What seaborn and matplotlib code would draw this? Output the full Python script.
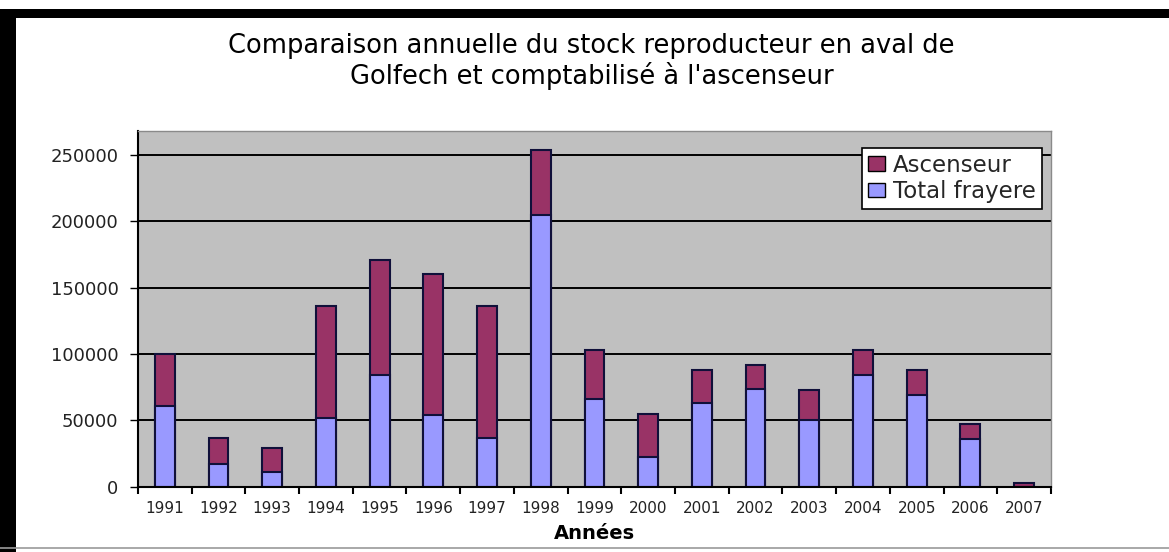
import matplotlib
matplotlib.use("Agg")
import matplotlib.pyplot as plt
from matplotlib.patches import Rectangle, Patch
from matplotlib.lines import Line2D
import numpy as np
import pandas as pd
import seaborn as sns

# data
annees = ["1991", "1992", "1993", "1994", "1995", "1996", "1997", "1998", "1999",
          "2000", "2001", "2002", "2003", "2004", "2005", "2006", "2007"]
total_frayere = [60500, 17000, 11000, 51500, 84500, 54000, 36500, 205000, 66500,
                 22500, 63500, 74000, 50500, 84500, 69500, 36000, 0]
ascenseur = [39500, 19500, 18000, 84500, 86000, 106000, 99500, 48500, 36500,
             32000, 24500, 18000, 22500, 18500, 18500, 11000, 3200]

df = pd.DataFrame({"annee": annees, "frayere": total_frayere, "ascenseur": ascenseur})
df["cumul"] = df["frayere"] + df["ascenseur"]

c_asc = "#993366"
c_fray = "#9999ff"
c_edge = "#10103a"

sns.set_style("white")
plt.rcParams["font.family"] = ["DejaVu Sans"]

fig = plt.figure(figsize=(11.69, 5.52), dpi=100)
ax = fig.add_axes([0.118, 0.118, 0.781, 0.645])
ax.set_facecolor("#c0c0c0")
ax.set_axisbelow(True)

# stacked bars: full height first (ascenseur on top), frayere over it
sns.barplot(data=df, x="annee", y="cumul", color=c_asc, width=0.37,
            edgecolor=c_edge, linewidth=1.5, saturation=1, ax=ax)
sns.barplot(data=df, x="annee", y="frayere", color=c_fray, width=0.37,
            edgecolor=c_edge, linewidth=1.5, saturation=1, ax=ax)

ax.set_xlim(-0.5, len(annees) - 0.5)
ax.set_ylim(0, 268000)
ax.set_yticks(np.arange(0, 250001, 50000))
ax.set_yticklabels([str(v) for v in range(0, 250001, 50000)], fontsize=13, color="#222222")
ax.yaxis.grid(True, color="black", linewidth=1.4)
ax.tick_params(axis="y", left=True, length=6, width=1, pad=8, color="black")

# year labels centred, ticks on the category boundaries
ax.set_xticks(np.arange(-0.5, len(annees), 1))
ax.set_xticklabels([])
ax.set_xticks(np.arange(len(annees)), minor=True)
ax.set_xticklabels(annees, minor=True, fontsize=11, color="#222222")
ax.tick_params(axis="x", which="major", bottom=True, length=5, width=1.5, color="black")
ax.tick_params(axis="x", which="minor", bottom=False, length=0, pad=10)

ax.set_xlabel("Années", fontsize=14, fontweight="bold", labelpad=6, color="black")
ax.set_ylabel("")

for s in ["top", "right"]:
    ax.spines[s].set_color("#8a8a8a")
    ax.spines[s].set_linewidth(1)
for s in ["left", "bottom"]:
    ax.spines[s].set_color("black")
    ax.spines[s].set_linewidth(1.5)

handles = [Patch(facecolor=c_asc, edgecolor="black", label="Ascenseur"),
           Patch(facecolor=c_fray, edgecolor="black", label="Total frayere")]
leg = ax.legend(handles=handles, loc="upper right", bbox_to_anchor=(0.990, 0.952),
                borderaxespad=0, fontsize=16.5, frameon=True, fancybox=False,
                framealpha=1, edgecolor="black", handlelength=0.75, handleheight=0.6,
                handletextpad=0.35, borderpad=0.25, labelspacing=0.15)
leg.get_frame().set_linewidth(1.2)

fig.text(0.506, 0.916, "Comparaison annuelle du stock reproducteur en aval de",
         ha="center", va="center", fontsize=18.5, color="black")
fig.text(0.506, 0.862, "Golfech et comptabilisé à l'ascenseur",
         ha="center", va="center", fontsize=18.5, color="black")

# black frame pieces around the picture
fig.add_artist(Rectangle((0, 0.9674), 1, 0.0163, transform=fig.transFigure,
                         color="black", lw=0))
fig.add_artist(Rectangle((0, 0), 0.0137, 0.984, transform=fig.transFigure,
                         color="black", lw=0))
fig.add_artist(Line2D([0, 1], [0.007, 0.007], transform=fig.transFigure,
                      color="#9a9a9a", lw=1.2))

fig.savefig("out.png", dpi=100)
